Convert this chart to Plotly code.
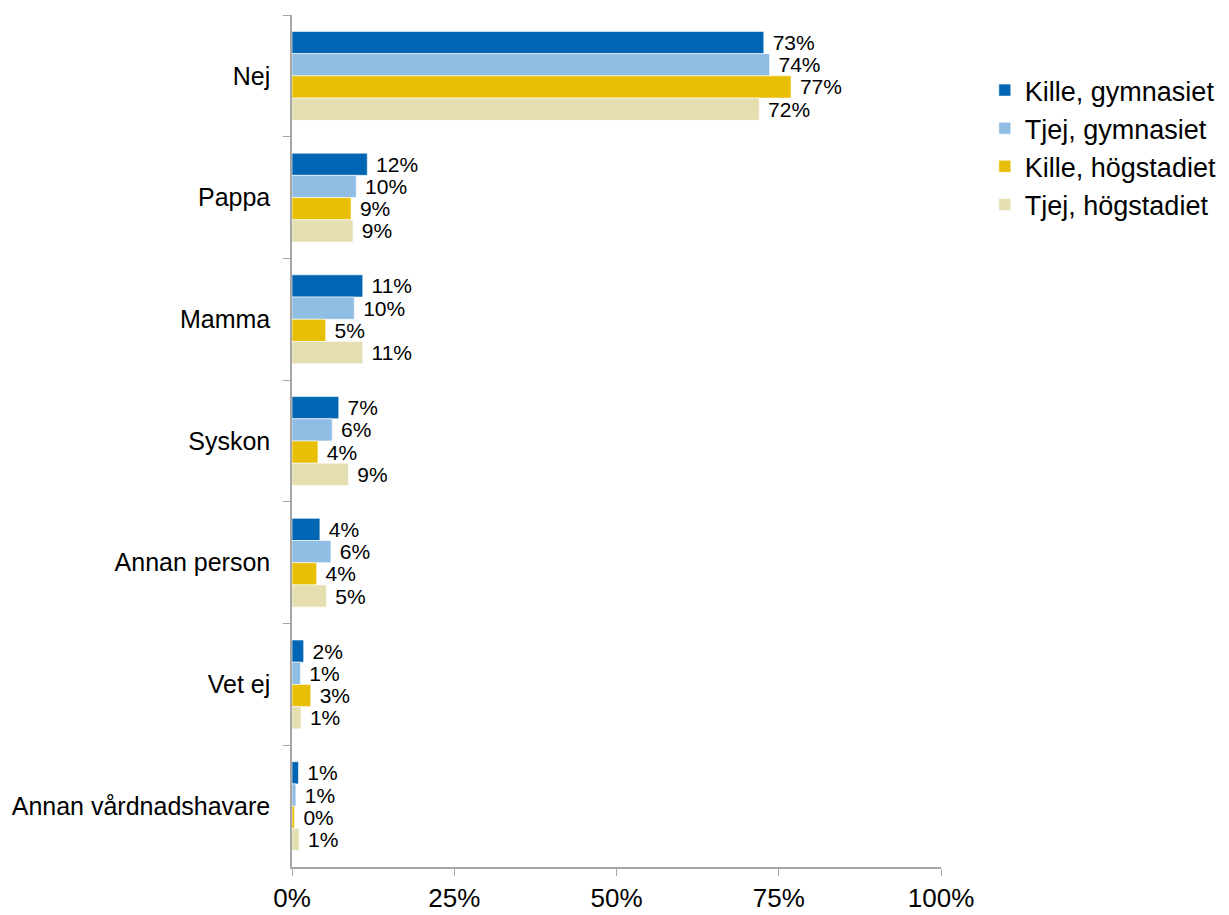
import plotly.graph_objects as go

categories = ["Nej", "Pappa", "Mamma", "Syskon", "Annan person", "Vet ej", "Annan vårdnadshavare"]
series_names = ["Kille, gymnasiet", "Tjej, gymnasiet", "Kille, högstadiet", "Tjej, högstadiet"]

kille_gym = [72.7, 11.6, 10.9, 7.2, 4.3, 1.8, 1.0]
tjej_gym = [73.6, 9.9, 9.6, 6.2, 6.0, 1.3, 0.6]
kille_hog = [76.9, 9.1, 5.2, 4.0, 3.8, 2.9, 0.4]
tjej_hog = [72.0, 9.4, 10.9, 8.7, 5.3, 1.4, 1.1]

x_ticks = [0, 25, 50, 75, 100]
x_tick_labels = ["0%", "25%", "50%", "75%", "100%"]

colors = ["#0066b3", "#8fbde3", "#e8bf05", "#e4deb1"]

fig = go.Figure()
for name, vals, col in zip(series_names, [kille_gym, tjej_gym, kille_hog, tjej_hog], colors):
    fig.add_trace(go.Bar(
        y=categories, x=vals, name=name, orientation="h", legendgroup=name,
        marker=dict(color=col, line=dict(color="white", width=0.6)),
        texttemplate=" %{x:.0f}%", textposition="outside",
        textfont=dict(size=21, color="black"),
        constraintext="none",
        cliponaxis=False,
    ))

# page body has an 8px default margin, so the figure is made 8px smaller
fig.update_layout(
    width=1221, height=907,
    barmode="group", bargap=0.27, bargroupgap=0,
    plot_bgcolor="white", paper_bgcolor="white",
    font=dict(family="Liberation Sans, Arial, sans-serif", color="black"),
    margin=dict(l=284, r=288, t=7, b=48),
    showlegend=True,
    legend=dict(xref="container", yref="container", x=0.8, y=0.936,
                xanchor="left", yanchor="top",
                font=dict(size=27), traceorder="normal",
                itemwidth=30, tracegroupgap=4),
)
fig.update_xaxes(
    range=[0, 100], tickvals=x_ticks, ticktext=x_tick_labels, automargin=False,
    showgrid=False, zeroline=False, showline=True, linecolor="#a6a6a6", linewidth=1.5,
    ticks="outside", ticklen=7, tickcolor="#a6a6a6", tickfont=dict(size=26),
)
fig.update_yaxes(
    autorange="reversed", automargin=False,
    showgrid=False, showline=True, linecolor="#a6a6a6", linewidth=1.5,
    ticks="outside", ticklen=7, tickcolor="#a6a6a6", tickson="boundaries",
    tickfont=dict(size=25), ticklabelstandoff=15,
)

fig.write_html("out.html")
